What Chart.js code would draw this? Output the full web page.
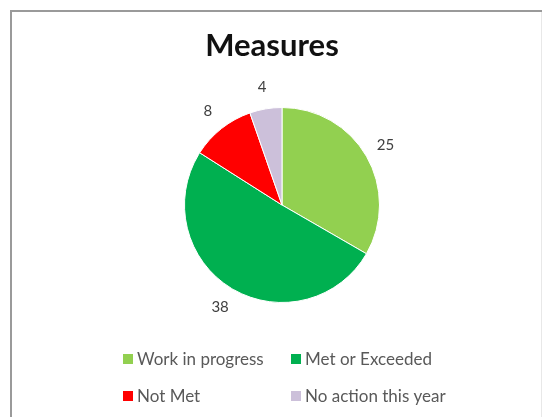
<!DOCTYPE html>
<html>
<head>
<meta charset="utf-8">
<script src="https://cdn.jsdelivr.net/npm/chart.js@4/dist/chart.umd.min.js"></script>
<style>
  html, body { margin: 0; padding: 0; background: #fff; }
  #wrap { position: relative; width: 542px; height: 417px; }
  canvas { display: block; }
</style>
</head>
<body>
<div id="wrap"><canvas id="c" width="542" height="417"></canvas></div>
<script>
const categories = ['Work in progress', 'Met or Exceeded', 'Not Met', 'No action this year'];
const counts = [25, 38, 8, 4];
const sliceColors = ['#92D050', '#00B050', '#FF0000', '#CCC0DA'];
const chartTitle = 'Measures';

// Frame, title, value labels and a two-column legend drawn on the canvas
const decorations = {
  id: 'decorations',
  beforeDraw(chart) {
    const ctx = chart.ctx;
    ctx.save();
    ctx.strokeStyle = '#9a9a9a';
    ctx.lineWidth = 2;
    ctx.beginPath();
    ctx.moveTo(11, 417);
    ctx.lineTo(11, 11);
    ctx.lineTo(542, 11);
    ctx.stroke();
    ctx.strokeStyle = '#e8e8e8';
    ctx.lineWidth = 1;
    ctx.beginPath();
    ctx.moveTo(541.5, 12);
    ctx.lineTo(541.5, 417);
    ctx.stroke();
    ctx.restore();
  },
  afterDraw(chart) {
    const ctx = chart.ctx;
    ctx.save();
    // title
    ctx.fillStyle = '#111';
    ctx.font = 'bold 31px Lato';
    ctx.textAlign = 'center';
    ctx.textBaseline = 'middle';
    ctx.fillText(chartTitle, 272, 46);

    // value labels outside each slice
    const meta = chart.getDatasetMeta(0);
    ctx.fillStyle = '#404040';
    ctx.font = '15px Lato';
    meta.data.forEach((arc, i) => {
      const p = arc.getProps(['x', 'y', 'startAngle', 'endAngle', 'outerRadius'], true);
      const mid = (p.startAngle + p.endAngle) / 2;
      const r = p.outerRadius + 22;
      ctx.fillText(String(counts[i]), p.x + Math.cos(mid) * r, p.y + Math.sin(mid) * r);
    });

    // legend
    const cols = [123, 291];
    const rows = [359, 396];
    ctx.font = '17px Lato';
    ctx.textAlign = 'left';
    categories.forEach((name, i) => {
      const x = cols[i % 2];
      const y = rows[Math.floor(i / 2)];
      ctx.fillStyle = sliceColors[i];
      ctx.fillRect(x, y - 5, 10, 10);
      ctx.fillStyle = '#595959';
      ctx.fillText(name, x + 14, y + 1);
    });
    ctx.restore();
  }
};

new Chart(document.getElementById('c'), {
  type: 'pie',
  data: {
    labels: categories,
    datasets: [{
      data: counts,
      backgroundColor: sliceColors,
      borderColor: '#ffffff',
      borderWidth: 1
    }]
  },
  options: {
    responsive: false,
    animation: false,
    layout: { padding: { left: 184, right: 162, top: 107, bottom: 114 } },
    plugins: {
      legend: { display: false },
      title: { display: false },
      tooltip: { enabled: false }
    }
  },
  plugins: [decorations]
});
</script>
</body>
</html>
